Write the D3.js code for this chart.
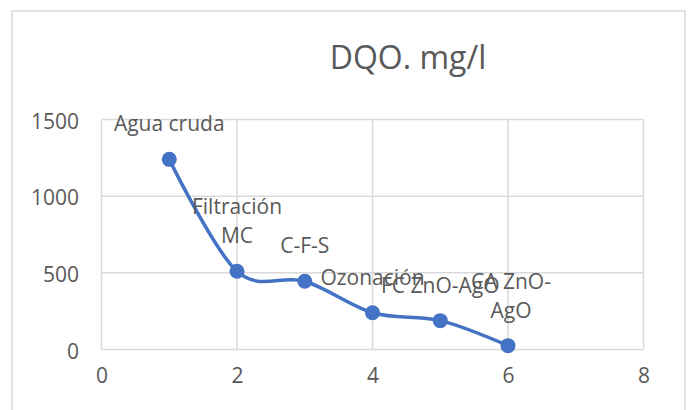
<!DOCTYPE html>
<html>
<head>
<meta charset="utf-8">
<script src="https://cdn.jsdelivr.net/npm/d3@7"></script>
<style>
  html, body { margin: 0; padding: 0; background: #fff; }
  svg { display: block; }
  text { font-family: "Open Sans", "Liberation Sans", sans-serif; fill: #595959; }
</style>
</head>
<body>
<svg id="chart" width="691" height="410"></svg>
<script>
const titleText = "DQO. mg/l";
const xValues = [1, 2, 3, 4, 5, 6];
const yValues = [1240, 510, 445, 240, 188, 25];
const pointLabels = [["Agua cruda"], ["Filtración", "MC"], ["C-F-S"], ["Ozonación"], ["FC ZnO-AgO"], ["CA ZnO-", "AgO"]];
const xTicks = [0, 2, 4, 6, 8];
const yTicks = [0, 500, 1000, 1500];

const svg = d3.select("#chart");
const plot = { left: 101.5, right: 643.5, top: 119.5, bottom: 349.5 };

// outer chart frame
svg.append("rect")
  .attr("x", 12).attr("y", 11)
  .attr("width", 673).attr("height", 420)
  .attr("fill", "#fff")
  .attr("stroke", "#d9d9d9").attr("stroke-width", 1.5);

const x = d3.scaleLinear().domain([0, 8]).range([plot.left, plot.right]);
const y = d3.scaleLinear().domain([0, 1500]).range([plot.bottom, plot.top]);

// gridlines
const grid = svg.append("g");
grid.selectAll("line.v").data(xTicks).join("line")
  .attr("class", "v")
  .attr("x1", d => x(d)).attr("x2", d => x(d))
  .attr("y1", plot.top).attr("y2", plot.bottom)
  .attr("stroke", "#d9d9d9").attr("stroke-width", 1.5);
grid.selectAll("line.h").data(yTicks).join("line")
  .attr("class", "h")
  .attr("y1", d => y(d)).attr("y2", d => y(d))
  .attr("x1", plot.left).attr("x2", plot.right)
  .attr("stroke", "#d9d9d9").attr("stroke-width", 1.5);

// axes (labels only)
const yAxis = d3.axisLeft(y).tickValues(yTicks).tickFormat(d3.format("d")).tickSize(0).tickPadding(0);
const gy = svg.append("g").attr("transform", `translate(79,0)`).call(yAxis);
gy.select(".domain").remove();
gy.selectAll("text")
  .attr("font-size", 21)
  .attr("dy", "0.42em")
  .style("fill", "#595959")
  .style("font-family", '"Open Sans", sans-serif');

const xAxis = d3.axisBottom(x).tickValues(xTicks).tickFormat(d3.format("d")).tickSize(0).tickPadding(0);
const gx = svg.append("g").attr("transform", `translate(0,372)`).call(xAxis);
gx.select(".domain").remove();
gx.selectAll("text")
  .attr("font-size", 21)
  .attr("dy", "0.5em")
  .style("fill", "#595959")
  .style("font-family", '"Open Sans", sans-serif');

// title
svg.append("text")
  .attr("x", 408).attr("y", 69)
  .attr("text-anchor", "middle")
  .attr("font-size", 32)
  .text(titleText);

const data = xValues.map((xv, i) => ({ x: xv, y: yValues[i], label: pointLabels[i] }));

// smoothed line
const line = d3.line()
  .x(d => x(d.x)).y(d => y(d.y))
  .curve(d3.curveCardinal.tension(0));
svg.append("path")
  .datum(data)
  .attr("d", line)
  .attr("fill", "none")
  .attr("stroke", "#4472C4")
  .attr("stroke-width", 3.5)
  .attr("stroke-linejoin", "round");

// markers
svg.selectAll("circle.pt").data(data).join("circle")
  .attr("class", "pt")
  .attr("cx", d => x(d.x)).attr("cy", d => y(d.y))
  .attr("r", 7.5)
  .attr("fill", "#4472C4");

// data labels (above)
const lineH = 29;
const lbl = svg.selectAll("text.lbl").data(data).join("text")
  .attr("class", "lbl")
  .attr("text-anchor", "middle")
  .attr("font-size", 21);
lbl.each(function(d) {
  const n = d.label.length;
  const t = d3.select(this);
  d.label.forEach((s, i) => {
    t.append("tspan")
      .attr("x", x(d.x) + (n > 1 && d.x === 6 ? 3 : 0))
      .attr("y", y(d.y) - 28 - (n - 1 - i) * lineH)
      .text(s);
  });
});
</script>
</body>
</html>
